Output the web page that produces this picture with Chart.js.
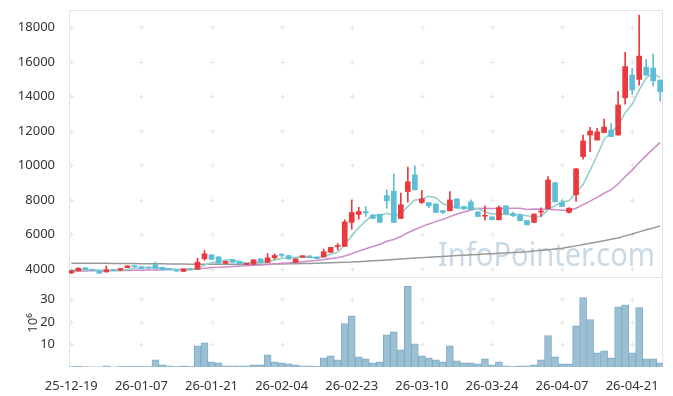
<!DOCTYPE html>
<html>
<head>
<meta charset="utf-8">
<script src="https://cdn.jsdelivr.net/npm/chart.js@4.4.1/dist/chart.umd.min.js"></script>
<style>
  html, body { margin: 0; padding: 0; background: #fff; }
  #precos { width: 673px; height: 279px; }
  #volume { width: 673px; height: 117px; }
</style>
</head>
<body>
<div id="precos"><canvas id="graficoPrecos"></canvas></div>
<div id="volume"><canvas id="graficoVolume"></canvas></div>
<script>
const dates = ['25-12-19','25-12-22','25-12-23','25-12-24','25-12-26','25-12-29','25-12-30',
  '26-01-02','26-01-05','26-01-06','26-01-07','26-01-08','26-01-09','26-01-12','26-01-13','26-01-14',
  '26-01-15','26-01-16','26-01-19','26-01-20','26-01-21','26-01-22','26-01-23','26-01-26','26-01-27',
  '26-01-28','26-01-29','26-01-30','26-02-02','26-02-03','26-02-04','26-02-05','26-02-06','26-02-09',
  '26-02-10','26-02-11','26-02-12','26-02-13','26-02-19','26-02-20','26-02-23','26-02-24','26-02-25',
  '26-02-26','26-02-27','26-03-03','26-03-04','26-03-05','26-03-06','26-03-09','26-03-10','26-03-11',
  '26-03-12','26-03-13','26-03-16','26-03-17','26-03-18','26-03-19','26-03-20','26-03-23','26-03-24',
  '26-03-25','26-03-26','26-03-27','26-03-30','26-03-31','26-04-01','26-04-02','26-04-03','26-04-06',
  '26-04-07','26-04-08','26-04-09','26-04-10','26-04-13','26-04-14','26-04-15','26-04-16','26-04-17',
  '26-04-20','26-04-21','26-04-22','26-04-23','26-04-24','26-04-27'];

const opens = [3770,3890,4070,3960,3900,3830,3950,3930,4080,4160,
  4130,4100,4250,4100,3990,3920,3860,4010,3990,4590,
  4820,4700,4330,4550,4450,4270,4290,4590,4380,4660,
  4820,4780,4390,4680,4760,4700,4700,4970,5300,5310,
  6700,7160,7330,7130,7170,8250,8500,6930,8490,9450,
  7850,7850,7770,7380,7370,8060,7620,7890,7310,7060,
  7020,6850,7660,7210,7140,6810,6700,7300,7490,9000,
  7850,7280,8300,10510,11760,11470,11900,12050,11760,13920,
  15230,14980,15690,15640,14940];
const highs = [3930,4070,4090,3980,3910,4170,3970,4040,4200,4230,
  4150,4120,4400,4110,4010,3930,4020,4020,4630,5080,
  4840,4720,4460,4560,4460,4330,4550,4600,4900,4880,
  4900,4790,4600,4780,4770,4710,5160,5260,5480,6850,
  8000,7580,7620,7150,7180,8580,9500,8400,9900,9980,
  8550,7860,7780,7400,8490,8080,7640,8000,7320,7660,
  7040,7660,7680,7300,7200,6820,7200,7550,9350,9010,
  8000,7540,9830,11760,12200,12150,12690,12440,14270,16550,
  15620,18700,16140,16440,14950];
const lows = [3740,3880,3960,3900,3740,3820,3890,3920,4070,4100,
  4020,4030,4020,3930,3940,3860,3840,3950,3980,4500,
  4550,4320,4310,4380,4290,4250,4240,4360,4370,4560,
  4700,4570,4370,4670,4650,4590,4680,4960,5100,5300,
  6300,6890,7050,6920,6690,7520,6690,6920,7880,8580,
  7800,7560,7270,7200,7360,7520,7440,7420,7030,6850,
  6850,6840,7190,7050,6790,6550,6690,7050,7480,7880,
  7610,7230,7910,10360,10800,11460,11890,11660,11750,13540,
  14130,14650,15220,14600,13730];
const closes = [3900,4050,3970,3930,3760,3960,3920,4030,4180,4140,
  4040,4050,4030,3950,3960,3880,4000,3960,4400,4880,
  4560,4340,4440,4390,4300,4310,4530,4370,4650,4780,
  4790,4580,4590,4770,4670,4600,5000,5250,5360,6730,
  7270,7330,7240,6930,6700,7950,6700,7720,9050,8590,
  8070,7660,7280,7280,8000,7530,7490,7430,7040,7100,
  6860,7560,7200,7080,6800,6560,7180,7350,9160,7890,
  7620,7530,9800,11420,11990,11940,12220,11670,13500,15720,
  14370,16330,15230,14900,14270];

const ma5 = [3930,3950,3960,3950,3922,3934,3908,3920,3970,4046,
  4062,4088,4088,4042,4006,3974,3964,3950,4040,4224,
  4360,4428,4524,4522,4406,4356,4394,4380,4432,4528,
  4624,4634,4678,4702,4680,4642,4726,4858,4976,5388,
  5922,6388,6786,7100,7094,7230,7104,7200,7624,8002,
  8026,8218,8130,7776,7658,7550,7516,7546,7498,7318,
  7184,7198,7152,7160,7140,7080,7004,7034,7450,7668,
  7880,7950,8440,8892,9712,10576,11514,11888,12304,13050,
  13536,14358,15070,15340,15066];
const ma20 = [3880,3885,3890,3895,3900,3905,3910,3915,3920,3928,
  3935,3942,3950,3958,3965,3972,3980,3988,3998,4050,
  4083,4097,4121,4144,4171,4188,4219,4236,4259,4291,
  4329,4355,4383,4424,4460,4496,4546,4610,4658,4751,
  4886,5036,5176,5303,5423,5605,5713,5881,6101,6291,
  6455,6609,6744,6869,7036,7182,7307,7416,7500,7518,
  7498,7509,7507,7515,7520,7450,7474,7456,7461,7426,
  7404,7397,7523,7730,7930,8150,8387,8599,8922,9353,
  9728,10167,10568,10959,11333];
const ma60 = [4340,4338,4336,4334,4332,4330,4326,4322,4318,4314,
  4310,4306,4302,4298,4294,4290,4286,4282,4278,4274,
  4270,4270,4270,4270,4270,4270,4274,4278,4282,4286,
  4290,4298,4306,4314,4322,4330,4344,4358,4372,4386,
  4400,4424,4448,4472,4496,4520,4548,4576,4604,4632,
  4660,4684,4708,4732,4756,4780,4802,4824,4846,4868,
  4890,4912,4934,4956,4978,5000,5040,5080,5120,5160,
  5200,5270,5340,5420,5490,5560,5640,5720,5800,5920,
  6030,6150,6270,6380,6500];

// volume in millions
const volumes = [0.1,0.3,0.05,0,0,0.5,0,0.2,0.2,0.2,
  0.2,0.2,3.2,1.0,0.5,0.2,0.5,0.2,9.4,10.7,
  2.3,1.9,0.5,0.5,0.5,0.5,1.0,1.0,5.4,2.3,
  1.9,1.4,1.0,0.5,0.5,0.2,4.1,5.0,3.2,19.2,
  22.7,4.5,3.6,1.9,2.3,14.3,15.6,7.6,35.8,10.3,
  5.0,4.1,3.2,2.3,9.4,2.7,1.9,1.9,1.4,3.6,
  1.0,2.3,0.5,0.2,0.5,0.5,1.0,3.2,13.9,4.5,
  1.4,1.4,18.3,30.8,21.0,6.3,7.2,4.1,26.7,27.6,
  6.3,26.3,3.6,3.6,1.9];

const xTicks = [0, 10, 20, 30, 40, 50, 60, 70, 80];
const priceTicks = [4000, 6000, 8000, 10000, 12000, 14000, 16000, 18000];
const volTicks = [10, 20, 30];

const corAlta = '#ea3a40';
const corBaixa = '#5ebdd7';
const corCandle = closes.map((c, i) => (c >= opens[i] ? corAlta : corBaixa));

const pavio = closes.map((c, i) => ({ x: i, y: [lows[i], highs[i]] }));
const corpo = closes.map((c, i) => ({ x: i, y: [opens[i], c] }));
const linha = (arr) => arr.map((v, i) => ({ x: i, y: v }));

Chart.defaults.font.family = '"Noto Sans", sans-serif';
Chart.defaults.font.size = 13;
Chart.defaults.color = '#333';

// crosses at grid intersections + panel frame (+ watermark on the price panel)
function moldura(yTicks, comTopo, marca) {
  return {
    id: 'moldura',
    beforeDatasetsDraw(chart) {
      const { ctx, chartArea, scales } = chart;
      const x = scales.x;
      const y = scales.y;
      ctx.save();
      if (marca) {
        ctx.fillStyle = '#c9d9e6';
        ctx.font = '32px "Noto Sans", sans-serif';
        ctx.textBaseline = 'alphabetic';
        ctx.fillText(marca, chartArea.right - 225, chartArea.bottom - 12, 217);
      }
      ctx.strokeStyle = '#e6e6e6';
      ctx.lineWidth = 1;
      xTicks.forEach((t) => {
        const px = Math.round(x.getPixelForValue(t)) + 0.5;
        yTicks.forEach((v) => {
          const py = Math.round(y.getPixelForValue(v)) + 0.5;
          ctx.beginPath();
          ctx.moveTo(px - 2.5, py);
          ctx.lineTo(px + 2.5, py);
          ctx.moveTo(px, py - 2.5);
          ctx.lineTo(px, py + 2.5);
          ctx.stroke();
        });
      });
      const l = Math.round(chartArea.left) + 0.5;
      const r = Math.round(chartArea.right) - 0.5;
      const t = Math.round(chartArea.top) + 0.5;
      const b = Math.round(chartArea.bottom) - 0.5;
      ctx.strokeStyle = '#e3e3e3';
      ctx.beginPath();
      if (comTopo) {
        ctx.moveTo(l, b); ctx.lineTo(l, t); ctx.lineTo(r, t); ctx.lineTo(r, b);
      } else {
        ctx.moveTo(l, chartArea.top); ctx.lineTo(l, b);
        ctx.moveTo(r, chartArea.top); ctx.lineTo(r, b);
      }
      ctx.moveTo(l, b); ctx.lineTo(r, b);
      ctx.stroke();
      ctx.restore();
    }
  };
}

const escalaX = (mostrar) => ({
  type: 'linear',
  display: mostrar,
  offset: false,
  min: -0.33,
  max: 84.4,
  grid: { display: false, offset: false },
  border: { display: false },
  afterBuildTicks: (s) => { s.ticks = xTicks.map((v) => ({ value: v })); },
  afterFit: (s) => {
    if (mostrar) s.height = 29;
    s.paddingLeft = 0;
    s.paddingRight = 0;
  },
  ticks: { maxRotation: 0, autoSkip: false, padding: 3, callback: (v) => dates[v] }
});

const escalaY = (min, max, ticks, extra) => Object.assign({
  min: min,
  max: max,
  grid: { display: false },
  border: { display: false },
  afterBuildTicks: (s) => { s.ticks = ticks.map((v) => ({ value: v })); },
  afterFit: (s) => {
    s.width = 69;
    s.paddingTop = 0;
    s.paddingBottom = 0;
  },
  ticks: { padding: 6, callback: (v) => v }
}, extra);

new Chart(document.getElementById('graficoPrecos'), {
  type: 'bar',
  data: {
    datasets: [
      { type: 'line', data: linha(ma5), borderColor: '#8fcfc6', borderWidth: 1.5, pointRadius: 0, order: 3 },
      { type: 'line', data: linha(ma20), borderColor: '#cc8cc8', borderWidth: 1.5, pointRadius: 0, order: 4 },
      { type: 'line', data: linha(ma60), borderColor: '#999999', borderWidth: 1.5, pointRadius: 0, order: 5 },
      { data: pavio, backgroundColor: corCandle, barThickness: 1, grouped: false, order: 2 },
      { data: corpo, backgroundColor: corCandle, barThickness: 5, minBarLength: 1, grouped: false, order: 1 }
    ]
  },
  options: {
    responsive: true,
    maintainAspectRatio: false,
    animation: false,
    layout: { padding: { top: 10, right: 10, left: 0, bottom: 1 } },
    plugins: { legend: { display: false }, tooltip: { enabled: false } },
    scales: {
      x: escalaX(false),
      y: escalaY(3480, 19000, priceTicks, {})
    }
  },
  plugins: [moldura(priceTicks, true, 'InfoPointer.com')]
});

new Chart(document.getElementById('graficoVolume'), {
  type: 'bar',
  data: {
    datasets: [
      {
        data: linha(volumes), backgroundColor: '#9cc0d3', borderColor: '#80abc7',
        borderWidth: 1, barThickness: 7, grouped: false
      }
    ]
  },
  options: {
    responsive: true,
    maintainAspectRatio: false,
    animation: false,
    layout: { padding: { top: 0, right: 10, left: 0, bottom: 0 } },
    plugins: { legend: { display: false }, tooltip: { enabled: false } },
    scales: {
      x: escalaX(true),
      y: escalaY(0, 39, volTicks, {
        title: { display: true, text: '10⁶', padding: { top: 25, bottom: 0 }, font: { size: 13 } }
      })
    }
  },
  plugins: [moldura(volTicks, false, null)]
});
</script>
</body>
</html>
